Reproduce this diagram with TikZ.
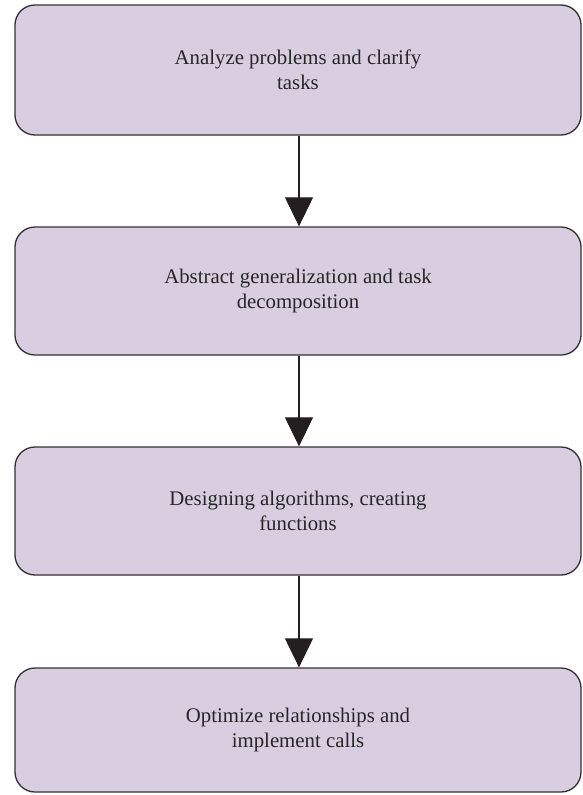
\documentclass[tikz,border=0pt]{standalone}
\usepackage{fontspec}
\setmainfont{Liberation Serif}
\usetikzlibrary{arrows.meta}
\definecolor{boxfill}{RGB}{217,206,224}
\definecolor{boxline}{RGB}{50,48,52}
\definecolor{arrowink}{RGB}{35,31,32}
\begin{document}
\begin{tikzpicture}[x=1pt,y=-1pt,
  stepbox/.style={draw=boxline, line width=1.3pt, fill=boxfill,
    rounded corners=20pt, minimum width=566pt, inner sep=0pt,
    align=center, font=\fontsize{20.8pt}{25.5pt}\selectfont, text=black!85},
  flow/.style={draw=arrowink, line width=1.1pt,
    -{Triangle[width=28pt,length=29pt,fill=arrowink]}}]
  \useasboundingbox (0,0) rectangle (582,795);
  \node[stepbox, minimum height=130pt] (s1) at (298,70)
    {Analyze problems and clarify\\tasks};
  \node[stepbox, minimum height=128pt] (s2) at (298,291)
    {Abstract generalization and task\\decomposition};
  \node[stepbox, minimum height=128pt] (s3) at (298,511)
    {Designing algorithms, creating\\functions};
  \node[stepbox, minimum height=124pt] (s4) at (298,730)
    {Optimize relationships and\\implement calls};
  \draw[flow] ([xshift=1pt]s1.south) -- ([xshift=1pt]s2.north);
  \draw[flow] ([xshift=1pt]s2.south) -- ([xshift=1pt]s3.north);
  \draw[flow] ([xshift=1pt]s3.south) -- ([xshift=1pt]s4.north);
\end{tikzpicture}
\end{document}
